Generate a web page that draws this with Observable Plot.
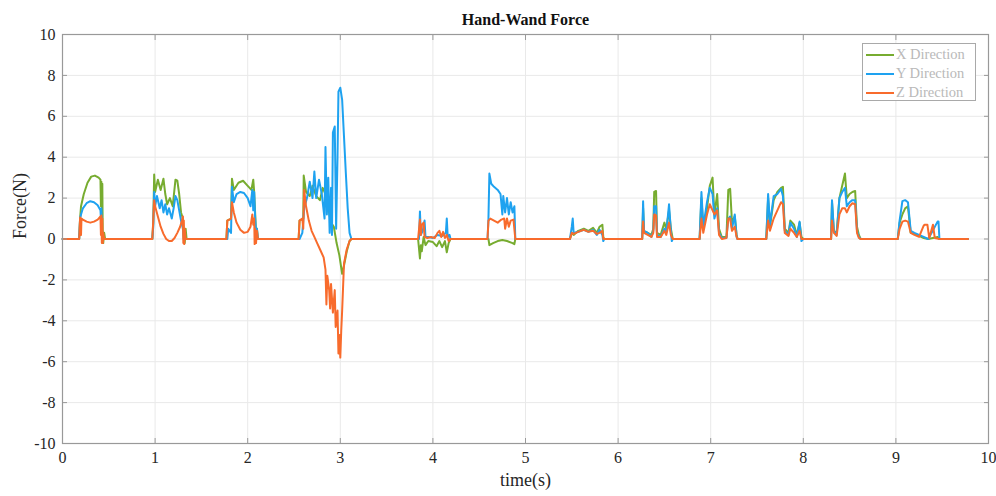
<!DOCTYPE html>
<html>
<head>
<meta charset="utf-8">
<script src="https://cdn.jsdelivr.net/npm/d3@7"></script>
<script src="https://cdn.jsdelivr.net/npm/@observablehq/plot@0.6"></script>
<style>
  html, body { margin: 0; padding: 0; background: #fff; }
  #wrap { position: relative; width: 996px; height: 496px; }
  #legend { position: absolute; left: 862px; top: 43px; width: 114px; height: 58px;
    border: 1px solid #a9a9a9; background: #fff; box-sizing: border-box;
    font-family: "Liberation Serif", serif; font-size: 14.5px; color: #b9b9b9; }
  .row { position: absolute; left: 3px; height: 19px; display: flex; align-items: center; }
  .sw { width: 28px; height: 2px; margin-right: 2px; }
</style>
</head>
<body>
<div id="wrap"><div id="chart"></div><div id="legend"></div></div>
<script>
const seriesNames = ["X Direction", "Y Direction", "Z Direction"];
const seriesColors = ["#77ac30", "#1ea2f0", "#f86b2c"];
const xTicks = [0, 1, 2, 3, 4, 5, 6, 7, 8, 9, 10];
const yTicks = [-10, -8, -6, -4, -2, 0, 2, 4, 6, 8, 10];

// [time (s), force (N)]
const xDirection = [
  [0,0],
  [0.18,0],[0.19,1.0],[0.2,1.6],[0.23,2.2],[0.27,2.75],[0.31,3.05],[0.35,3.1],[0.39,3.0],[0.41,2.9],[0.415,1.6],[0.42,2.8],[0.425,1.5],[0.43,2.7],[0.435,0],[0.44,-0.2],[0.45,0.3],[0.46,0],
  [0.97,0],[0.98,0.8],[0.99,3.15],[1.0,2.3],[1.03,2.9],[1.06,2.4],[1.09,2.95],[1.11,2.2],[1.13,1.7],[1.16,2.0],[1.19,1.6],[1.22,2.9],[1.24,2.85],[1.26,2.2],[1.28,1.3],[1.3,1.0],[1.31,0],[1.32,-0.2],[1.33,0.5],[1.34,0],
  [1.77,0],[1.78,0.9],[1.82,1.0],[1.83,2.95],[1.85,2.4],[1.9,2.75],[1.95,2.85],[2.0,2.6],[2.04,2.4],[2.06,2.9],[2.07,2.3],[2.08,1.3],[2.09,0.3],[2.1,0.5],[2.11,0],
  [2.55,0],[2.56,0.9],[2.6,1.0],[2.605,3.1],[2.63,2.3],[2.67,2.1],[2.7,2.6],[2.74,2.1],[2.78,1.9],[2.81,2.5],[2.84,2.2],[2.87,1.5],[2.9,0.8],[2.93,0.6],[2.96,-0.2],[2.99,-0.8],[3.02,-1.7],[3.04,-1.3],[3.07,-0.6],[3.1,-0.1],[3.12,0],
  [3.84,0],[3.86,-0.95],[3.87,-0.3],[3.88,-0.6],[3.9,0.1],[3.92,-0.3],[3.95,-0.1],[4.0,-0.15],[4.04,-0.35],[4.07,-0.1],[4.1,-0.4],[4.13,-0.1],[4.15,-0.65],[4.17,-0.2],[4.19,0],
  [4.6,0],[4.61,-0.3],[4.65,-0.2],[4.7,-0.1],[4.75,-0.05],[4.8,-0.1],[4.86,-0.2],[4.88,-0.25],[4.89,0],
  [5.48,0],[5.5,0.3],[5.52,0.2],[5.57,0.4],[5.63,0.5],[5.68,0.4],[5.73,0.55],[5.77,0.3],[5.8,0.6],[5.83,0.7],[5.84,0.1],[5.85,0],
  [6.26,0],[6.27,1.5],[6.28,0.4],[6.32,0.3],[6.36,0.2],[6.38,0.5],[6.39,2.3],[6.41,2.35],[6.42,0.3],[6.46,0.2],[6.5,0.8],[6.52,0.5],[6.55,1.4],[6.57,0.5],[6.59,0],
  [6.88,0],[6.9,2.0],[6.92,0.5],[6.96,1.5],[6.99,2.6],[7.02,3.0],[7.04,1.2],[7.07,2.2],[7.09,0.5],[7.12,0.1],[7.17,0.1],[7.19,2.4],[7.21,2.45],[7.23,0.8],[7.26,1.1],[7.28,0.2],[7.29,0],
  [7.6,0],[7.62,2.0],[7.64,0.6],[7.68,1.9],[7.72,2.3],[7.76,2.5],[7.78,2.55],[7.8,0.5],[7.84,0.3],[7.86,0.9],[7.9,0.7],[7.93,0.2],[7.96,0.8],[7.98,0.1],[8.0,0],
  [8.3,0],[8.31,1.8],[8.33,0.4],[8.36,0.3],[8.39,2.0],[8.42,2.6],[8.45,3.2],[8.47,2.0],[8.5,2.2],[8.53,2.3],[8.56,2.35],[8.58,0.6],[8.6,0.2],[8.62,0],
  [9.02,0],[9.04,0.8],[9.07,1.2],[9.1,1.5],[9.13,1.6],[9.16,0.3],[9.2,0.25],[9.25,0.15],[9.3,0.05],[9.35,0],[9.45,0.1],[9.47,0],[9.78,0]
];

const yDirection = [
  [0,0],
  [0.18,0],[0.19,1.0],[0.2,1.2],[0.22,1.5],[0.26,1.75],[0.3,1.85],[0.34,1.8],[0.38,1.65],[0.41,1.4],[0.415,1.0],[0.42,1.5],[0.43,0],[0.44,0],
  [0.97,0],[0.98,0.6],[0.99,2.3],[1.0,1.6],[1.02,2.1],[1.05,1.5],[1.07,1.9],[1.09,1.3],[1.11,1.7],[1.13,1.2],[1.15,1.5],[1.18,1.0],[1.2,1.5],[1.22,2.1],[1.24,1.9],[1.26,1.4],[1.28,0.9],[1.3,0.5],[1.31,0],
  [1.78,0],[1.79,0.5],[1.82,0.3],[1.83,2.55],[1.85,1.8],[1.88,2.2],[1.92,2.3],[1.96,2.25],[2.0,2.0],[2.03,1.6],[2.05,2.4],[2.06,1.4],[2.07,2.3],[2.08,1.1],[2.09,0.3],[2.1,0.5],[2.11,0],
  [2.56,0],[2.59,0.3],[2.61,1.5],[2.64,2.0],[2.67,2.8],[2.7,2.0],[2.72,3.3],[2.74,2.0],[2.77,2.9],[2.8,2.2],[2.83,1.0],[2.84,4.5],[2.855,1.2],[2.87,3.0],[2.885,0.3],[2.9,2.5],[2.91,0.2],[2.92,5.2],[2.94,5.5],[2.955,0.5],[2.97,4.0],[2.98,7.2],[3.0,7.4],[3.02,6.8],[3.04,5.0],[3.06,3.2],[3.08,1.5],[3.1,0.3],[3.12,0],
  [3.85,0],[3.86,1.35],[3.87,0.2],[3.89,0.4],[3.91,0.9],[3.92,0.1],[3.95,0.1],[4.0,0.05],[4.05,0.2],[4.1,0.15],[4.14,0.3],[4.15,1.0],[4.16,0.1],[4.18,0.2],[4.19,0],
  [4.59,0],[4.6,1.0],[4.61,3.2],[4.63,2.7],[4.66,2.55],[4.7,2.4],[4.73,2.2],[4.75,1.2],[4.76,2.1],[4.78,1.3],[4.8,2.0],[4.82,1.2],[4.84,1.8],[4.86,1.3],[4.88,1.6],[4.89,0],
  [5.48,0],[5.5,0.6],[5.51,1.0],[5.52,0.3],[5.57,0.35],[5.63,0.45],[5.68,0.35],[5.73,0.45],[5.77,0.2],[5.8,0.45],[5.83,0.2],[5.84,-0.1],[5.85,0],
  [6.26,0],[6.27,1.85],[6.28,0.4],[6.32,0.3],[6.36,0.1],[6.38,0.4],[6.39,1.6],[6.41,1.6],[6.42,0.2],[6.46,0.1],[6.5,0.5],[6.52,0.3],[6.55,1.7],[6.57,0.4],[6.58,-0.1],[6.59,0],
  [6.88,0],[6.9,2.3],[6.92,0.6],[6.96,1.8],[6.99,2.5],[7.02,2.2],[7.04,1.0],[7.07,1.5],[7.09,0.3],[7.12,0.05],[7.17,0.05],[7.19,1.0],[7.21,1.1],[7.23,0.5],[7.26,1.2],[7.28,0.1],[7.29,0],
  [7.6,0],[7.62,2.2],[7.64,0.7],[7.68,2.1],[7.72,2.2],[7.76,2.45],[7.78,2.1],[7.8,0.4],[7.84,0.2],[7.86,0.8],[7.9,0.5],[7.93,0.1],[7.96,0.85],[7.98,-0.1],[8.0,0],
  [8.3,0],[8.31,1.9],[8.33,0.4],[8.36,0.2],[8.39,2.0],[8.42,2.3],[8.45,2.5],[8.47,1.6],[8.5,1.8],[8.53,1.9],[8.56,1.9],[8.58,0.4],[8.6,0.1],[8.62,0],
  [9.02,0],[9.04,0.9],[9.07,1.85],[9.1,1.9],[9.13,1.8],[9.16,0.4],[9.2,0.3],[9.25,0.2],[9.3,0.1],[9.35,0],[9.45,0.85],[9.46,0.85],[9.47,0],[9.78,0]
];

const zDirection = [
  [0,0],
  [0.18,0],[0.19,1.05],[0.2,0.2],[0.205,1.0],[0.22,0.95],[0.26,0.85],[0.3,0.8],[0.34,0.85],[0.38,0.95],[0.41,1.1],[0.415,0.2],[0.42,1.15],[0.425,-0.2],[0.43,1.0],[0.435,-0.2],[0.44,0.3],[0.45,0],
  [0.97,0],[0.98,0.9],[0.99,1.9],[1.0,1.6],[1.03,1.1],[1.06,0.6],[1.09,0.25],[1.12,0.0],[1.15,-0.1],[1.18,-0.1],[1.21,0.05],[1.24,0.3],[1.27,0.6],[1.29,0.9],[1.3,1.1],[1.305,-0.2],[1.31,0.9],[1.315,-0.25],[1.32,0.5],[1.33,0],
  [1.77,0],[1.78,0.9],[1.82,1.0],[1.83,1.8],[1.85,1.3],[1.88,0.8],[1.92,0.45],[1.96,0.3],[2.0,0.35],[2.03,0.6],[2.05,1.2],[2.06,0.7],[2.07,1.0],[2.075,-0.25],[2.08,0.5],[2.09,-0.2],[2.1,0.4],[2.11,0],
  [2.55,0],[2.56,0.9],[2.59,1.0],[2.6,0.5],[2.61,2.4],[2.63,1.6],[2.66,0.9],[2.69,0.4],[2.72,0.1],[2.75,-0.2],[2.79,-0.6],[2.82,-0.9],[2.84,-1.5],[2.85,-3.2],[2.86,-1.8],[2.88,-2.5],[2.89,-3.4],[2.9,-2.2],[2.92,-3.6],[2.94,-2.5],[2.95,-4.3],[2.97,-3.5],[2.98,-5.6],[2.99,-4.7],[3.0,-5.8],[3.01,-4.5],[3.02,-3.5],[3.04,-1.2],[3.07,-0.5],[3.1,-0.1],[3.12,0],
  [3.84,0],[3.86,0.95],[3.87,0.2],[3.88,0.7],[3.9,0.8],[3.91,0.1],[3.94,0.05],[3.98,0.1],[4.02,0.05],[4.05,0.3],[4.07,0.4],[4.09,0.1],[4.11,0.35],[4.13,0.05],[4.15,0.2],[4.17,-0.1],[4.19,0],
  [4.59,0],[4.6,0.9],[4.62,1.0],[4.66,0.9],[4.7,0.8],[4.74,0.95],[4.77,1.0],[4.78,0.5],[4.8,1.0],[4.82,0.6],[4.84,0.9],[4.87,0.95],[4.89,0],
  [5.48,0],[5.5,0.3],[5.52,0.25],[5.57,0.35],[5.63,0.45],[5.68,0.35],[5.73,0.4],[5.77,0.25],[5.8,0.3],[5.83,0.4],[5.84,0],[5.85,0],
  [6.26,0],[6.27,0.85],[6.28,0.3],[6.32,0.2],[6.36,0.1],[6.38,0.3],[6.39,1.2],[6.41,1.15],[6.42,0.1],[6.46,0.1],[6.5,0.4],[6.52,0.2],[6.55,0.8],[6.57,0.2],[6.59,0],
  [6.88,0],[6.9,1.0],[6.92,0.3],[6.96,1.2],[6.99,1.7],[7.01,1.5],[7.04,1.2],[7.07,1.4],[7.09,0.2],[7.12,0.0],[7.17,0.05],[7.19,1.0],[7.21,1.0],[7.23,0.4],[7.26,0.6],[7.28,0.1],[7.29,0],
  [7.6,0],[7.62,0.9],[7.64,0.4],[7.68,1.0],[7.72,1.4],[7.76,1.8],[7.78,1.7],[7.8,0.3],[7.84,0.15],[7.86,0.5],[7.9,0.3],[7.93,0.1],[7.96,0.4],[7.98,0],[8.0,0],
  [8.3,0],[8.31,0.9],[8.33,0.3],[8.36,0.15],[8.39,1.2],[8.42,1.5],[8.45,1.5],[8.47,1.3],[8.5,1.6],[8.53,1.75],[8.56,1.7],[8.58,0.3],[8.6,0.05],[8.62,0],
  [9.02,0],[9.04,0.5],[9.07,0.85],[9.1,0.9],[9.13,0.85],[9.16,0.3],[9.2,0.2],[9.25,0.1],[9.3,0.65],[9.31,0.7],[9.34,0.7],[9.36,0.05],[9.4,0.7],[9.42,0.05],[9.47,0],[9.78,0]
];

const series = [xDirection, yDirection, zDirection];
const axisColor = "#999999";
const labelColor = "#262626";
const serif = "'Liberation Serif', 'Times New Roman', serif";
const hyphenFormat = d => (d < 0 ? "-" + (-d) : String(d));

const plot = Plot.plot({
  width: 996,
  height: 496,
  marginLeft: 62,
  marginRight: 8,
  marginTop: 34,
  marginBottom: 53,
  style: { fontFamily: serif, fontSize: "16px", color: labelColor, background: "#fff" },
  x: { domain: [0, 10], ticks: xTicks },
  y: { domain: [-10, 10], ticks: yTicks },
  marks: [
    Plot.gridX(xTicks, { stroke: "#e9e9e9", strokeOpacity: 1 }),
    Plot.gridY(yTicks, { stroke: "#e9e9e9", strokeOpacity: 1 }),
    ...series.map((s, i) => Plot.line(s, { x: d => d[0], y: d => d[1], stroke: seriesColors[i], strokeWidth: 2, strokeLinejoin: "round" })),
    Plot.frame({ stroke: axisColor, strokeWidth: 1.2 }),
    Plot.axisX(xTicks, { anchor: "bottom", tickSize: -5, tickPadding: 13, stroke: axisColor, fill: labelColor, label: null, fontSize: 16, fontFamily: serif, tickFormat: hyphenFormat }),
    Plot.axisX(xTicks, { anchor: "top", tickSize: -5, tickFormat: () => "", stroke: axisColor, label: null }),
    Plot.axisY(yTicks, { anchor: "left", tickSize: -5, tickPadding: 12, stroke: axisColor, fill: labelColor, label: null, fontSize: 16, fontFamily: serif, tickFormat: hyphenFormat }),
    Plot.axisY(yTicks, { anchor: "right", tickSize: -5, tickFormat: () => "", stroke: axisColor, label: null }),
    Plot.text(["Hand-Wand Force"], { frameAnchor: "top", dy: -21, fontWeight: "bold", fontSize: 16, fill: "#111", fontFamily: serif }),
    Plot.text(["time(s)"], { frameAnchor: "bottom", dy: 42, fontSize: 18, fill: labelColor, fontFamily: serif }),
    Plot.text(["Force(N)"], { frameAnchor: "left", dx: -42, rotate: -90, fontSize: 18, fill: labelColor, fontFamily: serif })
  ]
});
document.getElementById("chart").appendChild(plot);

const legend = document.getElementById("legend");
seriesNames.forEach((name, i) => {
  const row = document.createElement("div");
  row.className = "row";
  row.style.top = (1 + i * 19) + "px";
  const sw = document.createElement("span");
  sw.className = "sw";
  sw.style.background = seriesColors[i];
  const tx = document.createElement("span");
  tx.textContent = name;
  row.appendChild(sw);
  row.appendChild(tx);
  legend.appendChild(row);
});
</script>
</body>
</html>
